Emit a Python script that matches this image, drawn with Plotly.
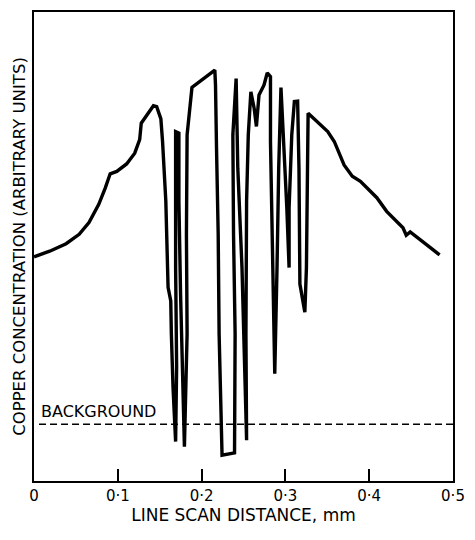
import plotly.graph_objects as go

# Line scan distance (mm) and copper concentration (arbitrary units, 0-100 frame height)
scan_x_mm = [0.0000, 0.0187, 0.0383, 0.0539, 0.0656, 0.0773, 0.0851, 0.0909, 0.0988, 0.1105,
             0.1202, 0.1261, 0.1280, 0.1358, 0.1425, 0.1464, 0.1514, 0.1534, 0.1573, 0.1600,
             0.1632, 0.1639, 0.1659, 0.1690, 0.1702, 0.1690, 0.1690, 0.1729, 0.1729, 0.1749,
             0.1768, 0.1795, 0.1827, 0.1819, 0.1827, 0.1885, 0.2158, 0.2166, 0.2178, 0.2198,
             0.2209, 0.2244, 0.2393, 0.2400, 0.2381, 0.2373, 0.2412, 0.2432, 0.2482, 0.2510,
             0.2537, 0.2529, 0.2537, 0.2557, 0.2588, 0.2627, 0.2654, 0.2685, 0.2744, 0.2783,
             0.2822, 0.2822, 0.2853, 0.2873, 0.2900, 0.2920, 0.2947, 0.2978, 0.3017, 0.3044,
             0.3044, 0.3076, 0.3107, 0.3146, 0.3162, 0.3173, 0.3232, 0.3251, 0.3271, 0.3505,
             0.3583, 0.3700, 0.3798, 0.3895, 0.4091, 0.4208, 0.4403, 0.4442, 0.4489, 0.4676,
             0.4840]
copper_y = [47.8, 49.0, 50.6, 52.6, 55.1, 59.0, 62.5, 65.5, 66.0, 67.6,
            69.9, 72.8, 76.3, 78.4, 80.0, 79.8, 77.2, 72.4, 59.7, 41.3,
            38.4, 31.4, 20.0, 8.4, 24.3, 45.5, 74.5, 74.2, 59.7, 39.8,
            24.3, 7.3, 31.4, 52.6, 73.8, 83.9, 87.6, 84.4, 71.0, 52.6,
            31.4, 5.5, 6.0, 31.4, 52.6, 73.8, 85.8, 66.7, 45.5, 27.8,
            8.7, 31.4, 59.7, 73.8, 83.0, 79.5, 75.6, 82.3, 84.4, 87.0,
            86.2, 72.4, 45.5, 22.9, 45.5, 66.7, 83.9, 73.8, 58.2, 45.5,
            58.2, 73.8, 80.9, 81.0, 66.7, 42.0, 36.0, 45.5, 78.4, 74.5,
            72.4, 67.4, 65.0, 63.9, 60.4, 57.5, 54.0, 52.4, 53.1, 50.5,
            48.2]

background_level = 12.1
background_x = [0.006, 0.5]

tick_vals = [0, 0.1, 0.2, 0.3, 0.4, 0.5]
tick_text = ["0", "0·1", "0·2", "0·3", "0·4", "0·5"]

FONT = "DejaVu Sans"

fig = go.Figure()
fig.add_trace(go.Scatter(
    x=background_x, y=[background_level] * len(background_x),
    mode="lines", line=dict(color="black", width=1.6, dash="7px,4px"),
    hoverinfo="skip", showlegend=False))
fig.add_trace(go.Scatter(
    x=scan_x_mm, y=copper_y, mode="lines",
    line=dict(color="black", width=3.4, shape="linear"),
    showlegend=False))

fig.add_annotation(x=0.006, y=background_level, xref="x", yref="y",
                   text="BACKGROUND", showarrow=False, xanchor="left", yanchor="bottom",
                   yshift=1, font=dict(family=FONT, size=16, color="black"))

fig.update_layout(
    width=475, height=540,
    margin=dict(l=34, r=14, t=10, b=59),
    paper_bgcolor="white", plot_bgcolor="white",
    font=dict(family=FONT, color="black"),
    xaxis=dict(range=[0, 0.5], tickvals=tick_vals, ticktext=tick_text,
               ticks="inside", ticklen=12, tickwidth=1.5, tickcolor="black",
               showline=True, linecolor="black", linewidth=1.6, mirror=True,
               showgrid=False, zeroline=False,
               tickfont=dict(family=FONT, size=15, color="black"),
               title=dict(text="LINE SCAN DISTANCE, mm", standoff=2,
                          font=dict(family=FONT, size=17, color="black"))),
    yaxis=dict(range=[0, 100], showticklabels=False, ticks="",
               showline=True, linecolor="black", linewidth=1.6, mirror=True,
               showgrid=False, zeroline=False,
               title=dict(text="COPPER CONCENTRATION (ARBITRARY UNITS)", standoff=2,
                          font=dict(family=FONT, size=16.5, color="black"))),
)

fig.write_html("out.html")
